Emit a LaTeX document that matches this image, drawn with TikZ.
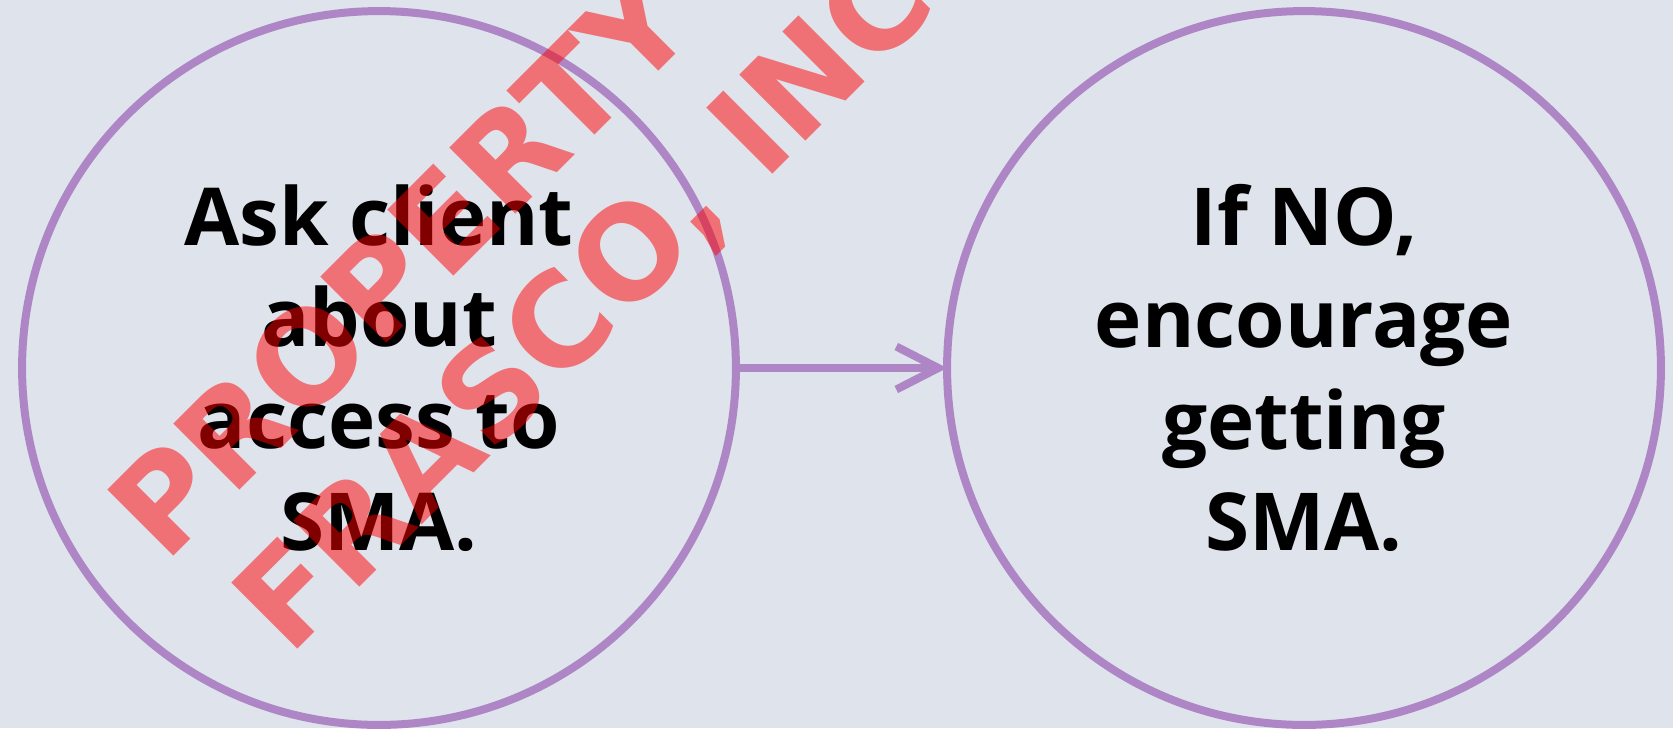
\documentclass[tikz,border=0pt]{standalone}
\usepackage{xcolor}
\usepackage{fontspec}
\setmainfont{Open Sans}
\newfontfamily\markfont{DejaVu Sans}
\usepackage{tikz}
\usetikzlibrary{shapes, arrows.meta, positioning}
\definecolor{bgblue}{HTML}{DFE3EC}
\definecolor{ringpurple}{HTML}{AE86C6}

\begin{document}
\begin{tikzpicture}
  [
    x=0.02cm, y=-0.02cm,
    Ring/.style={circle, draw=ringpurple, line width=0.16cm, minimum size=14.28cm, inner sep=0pt, outer sep=0pt, align=center, font=\bfseries\fontsize{45.5}{58}\selectfont},
    Mark/.style={text=red, opacity=0.5, rotate=45, anchor=base west, inner sep=0pt, font=\markfont\bfseries\fontsize{73}{73}\selectfont}
  ]
  \useasboundingbox (0,0) rectangle (1673,728);
  \fill[bgblue] (0,0) rectangle (1673,728);
  \clip (0,0) rectangle (1673,728);

  % Nodes
  \node[Ring] (ask) at (379, 368) {Ask client\\about\\access to\\SMA.};
  \node[Ring] (encourage) at (1304, 368) {If NO,\\encourage\\getting\\SMA.};

  % Lines
  \path [-{Straight Barb[length=0.84cm, width=0.86cm]}, draw=ringpurple, line width=0.16cm] (ask) -- (encourage);

  % Watermark
  \node[Mark] (mark1) at (165, 565) {PROPERTY};
  \node[Mark] (mark2) at (289, 658) {FRASCO, INC};

\end{tikzpicture}
\end{document}
